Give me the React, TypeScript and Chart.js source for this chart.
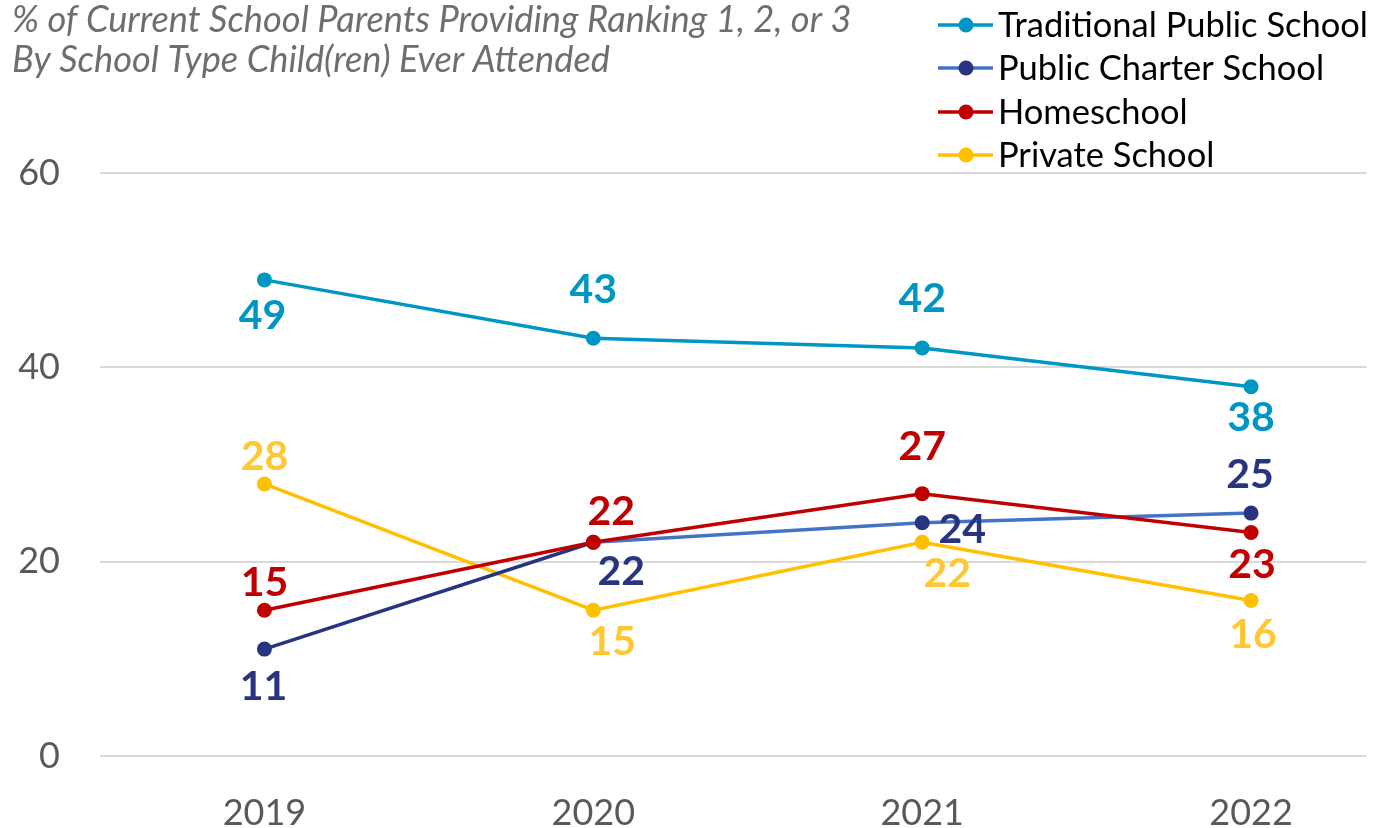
import React, { useEffect, useRef } from "react";
import { Chart, registerables } from "chart.js";

Chart.register(...registerables);

// ---- data ----
const years = ["2019", "2020", "2021", "2022"];
const seriesNames = ["Traditional Public School", "Public Charter School", "Homeschool", "Private School"];
const traditional = [49, 43, 42, 38];
const charter = [11, 22, 24, 25];
const homeschool = [15, 22, 27, 23];
const privateSchool = [28, 15, 22, 16];
const yTicks = [0, 20, 40, 60];
const titleLines = [
  "% of Current School Parents Providing Ranking 1, 2, or 3",
  "By School Type Child(ren) Ever Attended",
];

// ---- styles ----
const TEAL = "#0096C4";
const NAVY = "#283480";
const CHARTER_LINE = "#4472C4";
const RED = "#C00000";
const GOLD = "#FFC000";
const GOLD_LABEL = "#FFC832";

const lineColors = [TEAL, CHARTER_LINE, RED, GOLD];
const pointColors = [TEAL, NAVY, RED, GOLD];
const labelColors = [TEAL, NAVY, RED, GOLD_LABEL];

// label offsets (dx, dy) from each point, per series
const labelOffsets: [number, number][][] = [
  [[-2, 36], [0, -48], [0, -49], [0, 31]],
  [[-1, 38], [28, 30], [40, 7], [-1, -38]],
  [[0, -27], [18, -30], [0, -47], [1, 32]],
  [[0, -27], [19, 32], [25, 32], [2, 34]],
];

const FONT = "Lato, 'Open Sans', sans-serif";

function fitSize(ctx: CanvasRenderingContext2D, text: string, style: string, weight: string, width: number) {
  ctx.font = `${style} ${weight} 100px ${FONT}`;
  const w = ctx.measureText(text).width;
  return (100 * width) / w;
}

const overlayPlugin = {
  id: "overlay",
  afterDatasetsDraw(chart: any) {
    const ctx: CanvasRenderingContext2D = chart.ctx;
    ctx.save();
    // data labels
    ctx.textAlign = "center";
    ctx.textBaseline = "middle";
    ctx.font = `bold 41px ${FONT}`;
    chart.data.datasets.forEach((ds: any, di: number) => {
      const meta = chart.getDatasetMeta(di);
      meta.data.forEach((pt: any, i: number) => {
        const [dx, dy] = labelOffsets[di][i];
        ctx.fillStyle = labelColors[di];
        ctx.fillText(String(ds.data[i].y), pt.x + dx, pt.y + dy);
      });
    });

    // title
    const ts = fitSize(ctx, titleLines[0], "italic", "normal", 840);
    ctx.font = `italic normal ${ts}px ${FONT}`;
    ctx.fillStyle = "#6E6E6E";
    ctx.textAlign = "left";
    ctx.fillText(titleLines[0], 12, 20);
    ctx.fillText(titleLines[1], 12, 60);

    // legend
    const ls = fitSize(ctx, seriesNames[0], "normal", "normal", 370);
    const rows = [25, 68, 112, 155];
    seriesNames.forEach((name, i) => {
      const y = rows[i];
      ctx.strokeStyle = lineColors[i];
      ctx.lineWidth = 3.5;
      ctx.beginPath();
      ctx.moveTo(938, y);
      ctx.lineTo(993, y);
      ctx.stroke();
      ctx.fillStyle = pointColors[i];
      ctx.beginPath();
      ctx.arc(966, y, 7.5, 0, Math.PI * 2);
      ctx.fill();
      ctx.fillStyle = "#000000";
      ctx.font = `normal normal ${ls}px ${FONT}`;
      ctx.textAlign = "left";
      ctx.fillText(name, 998, y + 1);
    });
    ctx.restore();
  },
};

export default function App() {
  const ref = useRef<HTMLCanvasElement>(null);

  useEffect(() => {
    document.body.style.margin = "0";
    const toXY = (arr: number[]) => arr.map((v, i) => ({ x: i, y: v }));
    const seriesValues = [traditional, charter, homeschool, privateSchool];
    const orders = [0, 2, 1, 3];
    const chart = new Chart(ref.current!, {
      type: "line",
      data: {
        datasets: seriesValues.map((vals, i) => ({
          label: seriesNames[i],
          data: toXY(vals),
          borderColor: lineColors[i],
          backgroundColor: pointColors[i],
          pointBackgroundColor: pointColors[i],
          pointBorderColor: pointColors[i],
          pointRadius: 7.5,
          pointBorderWidth: 0,
          borderWidth: 3.5,
          tension: 0,
          order: orders[i],
          segment:
            i === 1
              ? { borderColor: (c: any) => (c.p0DataIndex === 0 ? NAVY : CHARTER_LINE) }
              : undefined,
        })),
      },
      options: {
        animation: false,
        responsive: false,
        devicePixelRatio: 1,
        layout: { padding: { top: 173, left: 0, right: 0, bottom: 0 } },
        plugins: { legend: { display: false }, tooltip: { enabled: false }, title: { display: false } },
        scales: {
          x: {
            type: "linear",
            min: -0.5,
            max: 3.351,
            afterBuildTicks: (s: any) => {
              s.ticks = years.map((_, i) => ({ value: i }));
            },
            afterFit: (s: any) => {
              s.height = 72;
            },
            grid: { display: false, drawTicks: false },
            border: { display: false },
            ticks: {
              padding: 36,
              color: "#595959",
              font: { family: FONT, size: 36 },
              callback: (v: any) => years[v as number] ?? "",
              maxRotation: 0,
              autoSkip: false,
            },
          },
          y: {
            min: 0,
            max: 60,
            afterBuildTicks: (s: any) => {
              s.ticks = yTicks.map((v) => ({ value: v }));
            },
            afterFit: (s: any) => {
              s.width = 100;
            },
            grid: { color: "#D9D9D9", lineWidth: 2, drawTicks: false },
            border: { display: false },
            ticks: {
              padding: 40,
              color: "#595959",
              font: { family: FONT, size: 36 },
            },
          },
        },
      },
      plugins: [overlayPlugin],
    });
    return () => chart.destroy();
  }, []);

  return (
    <div style={{ width: 1374, height: 828 }}>
      <canvas ref={ref} width={1374} height={828} />
    </div>
  );
}
